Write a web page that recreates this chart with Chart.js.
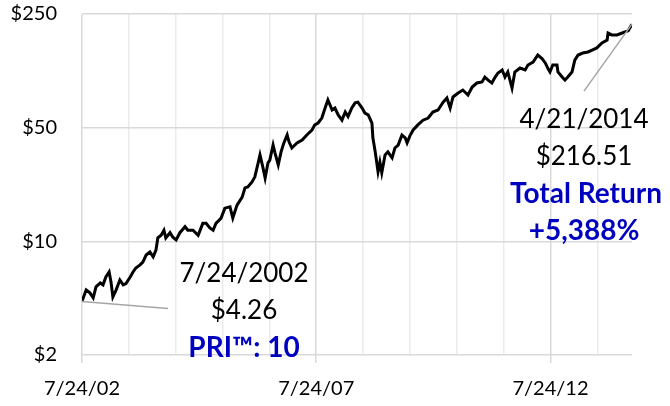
<!DOCTYPE html>
<html>
<head>
<meta charset="utf-8">
<script src="https://cdn.jsdelivr.net/npm/chart.js@4"></script>
<style>
  body { margin: 0; background: #fff; }
</style>
</head>
<body>
<canvas id="growth" width="670" height="406"></canvas>
<script>
// decimal years
const dates = [
  2002.56, 2002.65, 2002.73, 2002.80, 2002.86, 2002.95, 2003.01, 2003.07, 2003.14, 2003.18,
  2003.22, 2003.29, 2003.37, 2003.44, 2003.50, 2003.59, 2003.65, 2003.71, 2003.80, 2003.86,
  2003.93, 2004.01, 2004.08, 2004.14, 2004.18, 2004.25, 2004.31, 2004.35, 2004.44, 2004.50,
  2004.57, 2004.65, 2004.76, 2004.82, 2004.93, 2005.04, 2005.14, 2005.21, 2005.29, 2005.36,
  2005.42, 2005.53, 2005.61, 2005.72, 2005.78, 2005.87, 2005.98, 2006.04, 2006.10, 2006.19,
  2006.25, 2006.32, 2006.36, 2006.42, 2006.47, 2006.53, 2006.57, 2006.64, 2006.68, 2006.75,
  2006.81, 2006.87, 2006.94, 2006.98, 2007.04, 2007.15, 2007.26, 2007.36, 2007.47, 2007.53,
  2007.60, 2007.68, 2007.75, 2007.81, 2007.90, 2007.96, 2008.03, 2008.11, 2008.18, 2008.24,
  2008.32, 2008.39, 2008.45, 2008.54, 2008.60, 2008.67, 2008.75, 2008.77, 2008.82, 2008.86,
  2008.88, 2008.92, 2008.96, 2009.03, 2009.09, 2009.18, 2009.24, 2009.31, 2009.39, 2009.46,
  2009.50, 2009.56, 2009.63, 2009.73, 2009.84, 2009.95, 2010.05, 2010.16, 2010.27, 2010.35,
  2010.42, 2010.48, 2010.59, 2010.69, 2010.80, 2010.89, 2010.99, 2011.10, 2011.16, 2011.23,
  2011.31, 2011.38, 2011.44, 2011.53, 2011.59, 2011.65, 2011.74, 2011.80, 2011.91, 2012.02,
  2012.08, 2012.19, 2012.29, 2012.38, 2012.45, 2012.51, 2012.55, 2012.61, 2012.70, 2012.72,
  2012.81, 2012.87, 2012.93, 2013.02, 2013.08, 2013.15, 2013.25, 2013.36, 2013.45, 2013.55,
  2013.66, 2013.77, 2013.79, 2013.87, 2013.98, 2014.09, 2014.15, 2014.22, 2014.30
];
const prices = [
  4.26, 5.03, 4.82, 4.49, 5.25, 5.55, 5.40, 6.04, 6.48, 5.63,
  4.55, 5.03, 5.79, 5.40, 5.50, 6.04, 6.48, 6.86, 7.16, 7.45,
  8.24, 8.60, 8.02, 8.84, 10.5, 10.9, 11.7, 10.5, 11.3, 10.6,
  10.2, 11.3, 12.3, 11.7, 11.7, 10.9, 12.9, 12.9, 12.1, 11.7,
  12.9, 13.9, 16.0, 16.3, 13.9, 16.7, 18.7, 21.3, 21.6, 23.2,
  24.9, 30.3, 34.0, 28.7, 24.5, 30.3, 31.6, 39.1, 35.0, 29.5,
  35.5, 40.3, 45.1, 40.9, 37.5, 40.3, 42.0, 45.1, 48.4, 52.0,
  53.4, 57.3, 66.1, 74.0, 64.2, 66.0, 59.9, 55.6, 62.4, 58.6,
  66.1, 71.0, 71.7, 66.0, 61.5, 59.9, 53.4, 43.3, 35.5, 29.5,
  26.8, 30.7, 26.4, 34.0, 35.5, 32.6, 37.5, 39.1, 45.1, 43.3,
  40.3, 44.5, 48.4, 52.0, 55.6, 57.3, 62.4, 64.2, 71.7, 76.1,
  66.0, 77.2, 81.7, 85.2, 79.4, 88.9, 94.1, 95.5, 102.4, 98.0,
  94.1, 102.4, 108.5, 113.2, 102.4, 110.0, 87.6, 110.0, 116.4, 113.2,
  121.4, 126.6, 139.9, 133.0, 125.0, 115.0, 110.0, 121.4, 121.4, 110.0,
  102.4, 98.0, 102.4, 110.0, 130.0, 139.9, 143.9, 146.0, 150.0, 154.6,
  166.0, 173.0, 191.0, 186.0, 186.0, 191.0, 194.0, 197.0, 216.51
];
const yTicks = [2, 10, 50, 250];
const xStart = 2002.561;   // 7/24/2002
const xEnd = 2014.301;     // 4/21/2014
const xTickLabels = ['7/24/02', '7/24/07', '7/24/12'];
const startNote = ['7/24/2002', '$4.26', 'PRI™: 10'];
const endNote = ['4/21/2014', '$216.51', 'Total Return', '+5,388%'];

const FONT = 'Lato';
const BLUE = '#0000c0';

const notes = {
  id: 'notes',
  afterDatasetsDraw(chart) {
    const c = chart.ctx;
    const xs = chart.scales.x, ys = chart.scales.y;
    const n = dates.length - 1;
    const x0 = xs.getPixelForValue(dates[0]), y0 = ys.getPixelForValue(prices[0]);
    const x1 = xs.getPixelForValue(dates[n]), y1 = ys.getPixelForValue(prices[n]);
    c.save();
    c.strokeStyle = '#a6a6a6';
    c.lineWidth = 1.5;
    c.beginPath();
    c.moveTo(x0, y0);
    c.lineTo(x0 + 86, y0 + 7);
    c.moveTo(x1, y1);
    c.lineTo(x1 - 48, y1 + 67);
    c.stroke();

    c.textAlign = 'center';
    c.textBaseline = 'middle';
    const lh = 37;
    c.fillStyle = '#000';
    c.font = '26px ' + FONT;
    c.fillText(startNote[0], 244, 274);
    c.fillText(startNote[1], 244, 274 + lh);
    c.font = 'bold 28px ' + FONT;
    c.fillStyle = BLUE;
    c.fillText(startNote[2], 244, 274 + 2 * lh);

    c.fillStyle = '#000';
    c.font = '26px ' + FONT;
    c.fillText(endNote[0], 584, 120);
    c.fillText(endNote[1], 584, 120 + lh);
    c.font = 'bold 28px ' + FONT;
    c.fillStyle = BLUE;
    c.fillText(endNote[2], 586, 120 + 2 * lh);
    c.fillText(endNote[3], 584, 120 + 3 * lh);
    c.restore();
  }
};

const ctx = document.getElementById('growth');
new Chart(ctx, {
  type: 'line',
  data: {
    datasets: [{
      data: dates.map((d, i) => ({ x: d, y: prices[i] })),
      borderColor: '#000',
      borderWidth: 3,
      pointRadius: 0,
      tension: 0,
      fill: false
    }]
  },
  options: {
    responsive: false,
    animation: false,
    layout: { padding: { left: 0, right: 38, top: 14, bottom: 0 } },
    plugins: { legend: { display: false }, tooltip: { enabled: false } },
    scales: {
      x: {
        type: 'linear',
        min: xStart,
        max: xEnd,
        afterBuildTicks(scale) {
          const t = [];
          for (let k = 0; xStart + k <= xEnd; k++) t.push({ value: xStart + k });
          scale.ticks = t;
        },
        afterFit(scale) {
          scale.height = 51;
          scale.paddingLeft = 0;
          scale.paddingRight = 0;
        },
        border: { display: false },
        grid: {
          color: (c) => (c.index % 5 === 0 ? '#d9d9d9' : '#ebebeb'),
          lineWidth: 1.5,
          tickLength: 8,
          tickColor: (c) => (c.index % 5 === 0 ? '#d9d9d9' : 'rgba(0,0,0,0)')
        },
        ticks: {
          autoSkip: false,
          maxRotation: 0,
          padding: 14,
          color: '#000',
          font: { family: FONT, size: 20 },
          callback: (v, i) => (i % 5 === 0 ? xTickLabels[i / 5] : '')
        }
      },
      y: {
        type: 'logarithmic',
        min: 2,
        max: 250,
        afterBuildTicks(scale) {
          scale.ticks = yTicks.map((v) => ({ value: v, major: true }));
        },
        afterFit(scale) {
          scale.width = 82;
          scale.paddingTop = 0;
          scale.paddingBottom = 0;
        },
        border: { display: false },
        grid: { color: '#d9d9d9', lineWidth: 1.5, drawTicks: false },
        ticks: {
          padding: 25,
          color: '#000',
          font: { family: FONT, size: 20 },
          callback: (v) => '$' + v
        }
      }
    }
  },
  plugins: [notes]
});
</script>
</body>
</html>
